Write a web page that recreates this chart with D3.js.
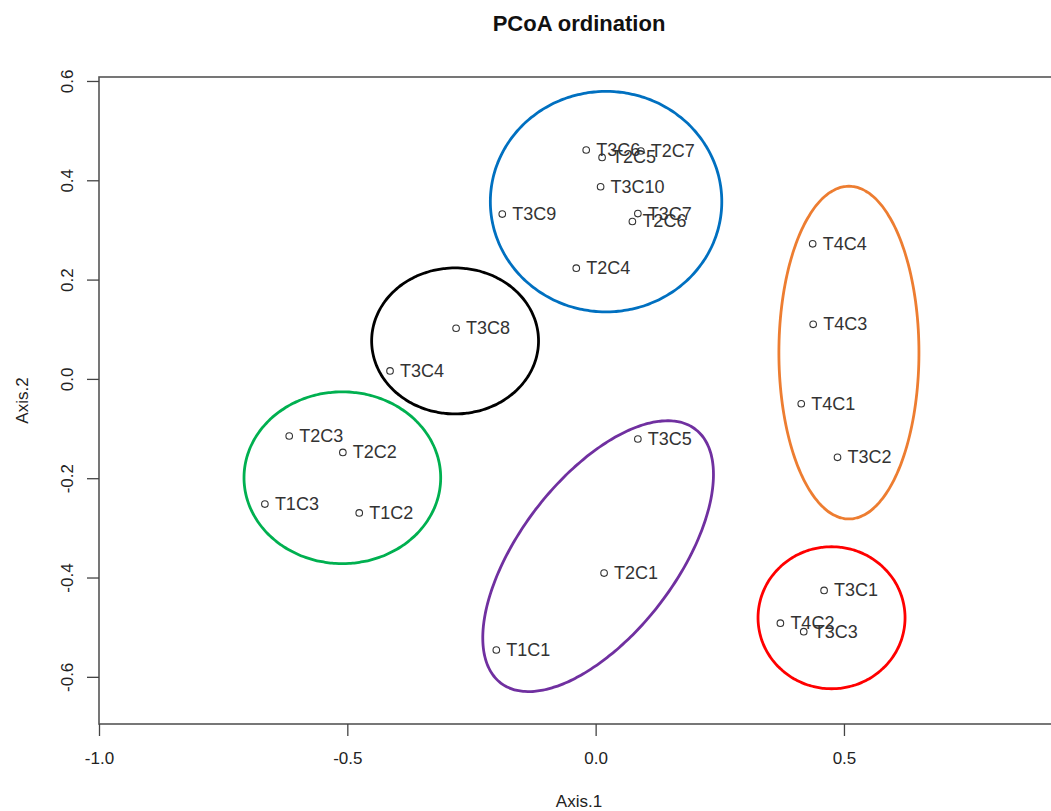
<!DOCTYPE html>
<html>
<head>
<meta charset="utf-8">
<script src="https://cdn.jsdelivr.net/npm/d3@7"></script>
<style>
  html, body { margin: 0; padding: 0; background: #fff; }
  svg { display: block; font-family: "Liberation Sans", Arial, sans-serif; }
</style>
</head>
<body>
<svg id="chart" width="1051" height="811"></svg>
<script>
// PCoA sample scores
const sampleIds = ["T3C6","T2C5","T2C7","T3C10","T3C9","T3C7","T2C6","T2C4",
                   "T3C8","T3C4","T2C3","T2C2","T1C3","T1C2",
                   "T3C5","T2C1","T1C1",
                   "T4C4","T4C3","T4C1","T3C2",
                   "T3C1","T4C2","T3C3"];
const axis1 = [-0.019, 0.013, 0.091, 0.010, -0.188, 0.085, 0.074, -0.039,
               -0.281, -0.414, -0.617, -0.509, -0.666, -0.476,
               0.085, 0.017, -0.200,
               0.437, 0.438, 0.414, 0.487,
               0.460, 0.372, 0.419];
const axis2 = [0.461, 0.446, 0.459, 0.387, 0.332, 0.333, 0.317, 0.223,
               0.102, 0.016, -0.115, -0.148, -0.252, -0.270,
               -0.121, -0.391, -0.546,
               0.272, 0.110, -0.050, -0.158,
               -0.426, -0.492, -0.509];

// Cluster outlines (centre, semi-axes and tilt in axis units / degrees)
const groupColors = ["#0070C0", "#000000", "#00B050", "#7030A0", "#ED7D31", "#FF0000"];
const groupCx     = [0.021, -0.283, -0.510, 0.005, 0.510, 0.475];
const groupCy     = [0.357, 0.0765, -0.199, -0.357, 0.053, -0.481];
const groupRx     = [0.233, 0.168, 0.198, 0.322, 0.141, 0.148];
const groupRy     = [0.222, 0.147, 0.173, 0.157, 0.335, 0.143];
const groupAngle  = [0, 0, 0, 52.5, 0, 0];

const xTicks = [-1.0, -0.5, 0.0, 0.5];
const yTicks = [-0.6, -0.4, -0.2, 0.0, 0.2, 0.4, 0.6];

const svg = d3.select("#chart");
const plotL = 99, plotR = 1059, plotT = 77, plotB = 724;

const x = d3.scaleLinear().domain([-1.0, 0.933]).range([plotL, plotR]);
const y = d3.scaleLinear().domain([-0.695, 0.608]).range([plotB, plotT]);

// Title
svg.append("text")
  .attr("x", (plotL + plotR) / 2).attr("y", 31)
  .attr("text-anchor", "middle")
  .attr("font-size", 22).attr("font-weight", "bold").attr("fill", "#111")
  .text("PCoA ordination");

// Plot frame
svg.append("rect")
  .attr("x", plotL).attr("y", plotT)
  .attr("width", plotR - plotL).attr("height", plotB - plotT)
  .attr("fill", "none").attr("stroke", "#555").attr("stroke-width", 1.6);

// Axes (plain hyphen for negative numbers)
const fmt = v => d3.format(".1f")(v).replace("\u2212", "-");
const gx = svg.append("g").attr("transform", `translate(0,${plotB})`)
  .call(d3.axisBottom(x).tickValues(xTicks).tickFormat(fmt).tickSize(12).tickPadding(16));
const gy = svg.append("g").attr("transform", `translate(${plotL},0)`)
  .call(d3.axisLeft(y).tickValues(yTicks).tickFormat(fmt).tickSize(12).tickPadding(10));

[gx, gy].forEach(g => {
  g.select(".domain").remove();
  g.selectAll(".tick line").attr("stroke", "#444").attr("stroke-width", 1.3);
  g.selectAll(".tick text").attr("font-size", 17).attr("fill", "#222")
    .style("font-family", "'Liberation Sans', Arial, sans-serif");
});
gx.selectAll(".tick text").attr("dy", "0.71em");
// y tick labels run parallel to the axis
gy.selectAll(".tick text")
  .attr("x", null).attr("dy", null)
  .attr("text-anchor", "middle")
  .attr("transform", "translate(-30,0) rotate(-90)")
  .attr("dominant-baseline", "middle");

// Axis titles
svg.append("text")
  .attr("x", (plotL + plotR) / 2).attr("y", 807)
  .attr("text-anchor", "middle").attr("font-size", 17).attr("fill", "#222")
  .text("Axis.1");
svg.append("text")
  .attr("transform", `translate(28,${(plotT + plotB) / 2}) rotate(-90)`)
  .attr("text-anchor", "middle").attr("font-size", 17).attr("fill", "#222")
  .text("Axis.2");

// Points and labels
const pts = svg.append("g");
sampleIds.forEach((id, i) => {
  const px = x(axis1[i]), py = y(axis2[i]);
  pts.append("circle")
    .attr("cx", px).attr("cy", py).attr("r", 3.3)
    .attr("fill", "none").attr("stroke", "#333").attr("stroke-width", 1.1);
  pts.append("text")
    .attr("x", px + 10).attr("y", py)
    .attr("dominant-baseline", "central")
    .attr("font-size", 18).attr("fill", "#333")
    .text(id);
});

// Cluster ellipses
const ell = svg.append("g");
groupColors.forEach((c, k) => {
  const th = groupAngle[k] * Math.PI / 180;
  const ring = d3.range(0, 360, 2).map(d => {
    const t = d * Math.PI / 180;
    const dx = groupRx[k] * Math.cos(t) * Math.cos(th) - groupRy[k] * Math.sin(t) * Math.sin(th);
    const dy = groupRx[k] * Math.cos(t) * Math.sin(th) + groupRy[k] * Math.sin(t) * Math.cos(th);
    return [x(groupCx[k] + dx), y(groupCy[k] + dy)];
  });
  ell.append("path")
    .attr("d", d3.line().curve(d3.curveCardinalClosed)(ring))
    .attr("fill", "none").attr("stroke", c).attr("stroke-width", 2.8);
});
</script>
</body>
</html>
